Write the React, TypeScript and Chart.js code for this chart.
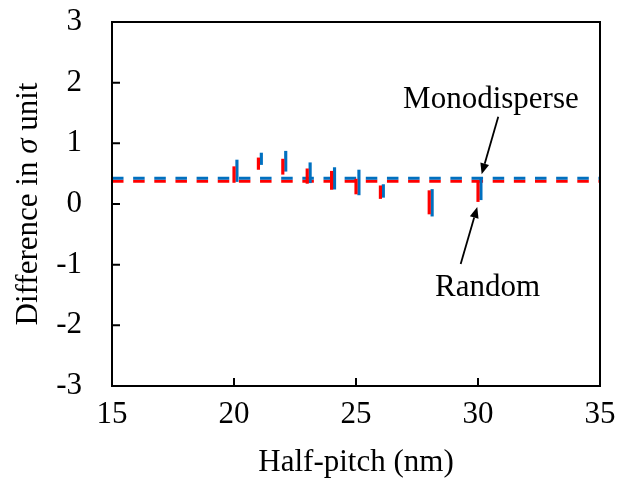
import React, { useEffect, useRef } from "react";
import { Chart, registerables } from "chart.js";

Chart.register(...registerables);

// Data
const randomX = [20, 21, 22, 23, 24, 25, 26, 28, 30];
const randomLow = [0.355, 0.57, 0.49, 0.34, 0.24, 0.165, 0.09, -0.165, 0.04];
const randomHigh = [0.615, 0.76, 0.74, 0.58, 0.54, 0.41, 0.3, 0.22, 0.38];

const monoX = [20.12, 21.12, 22.12, 23.12, 24.12, 25.12, 26.12, 28.12, 30.12];
const monoLow = [0.37, 0.65, 0.54, 0.35, 0.245, 0.15, 0.11, -0.2, 0.07];
const monoHigh = [0.725, 0.84, 0.87, 0.68, 0.6, 0.56, 0.32, 0.24, 0.42];

const monoMean = 0.425;
const randomMean = 0.375;

const xRange = [15, 35];
const yRange = [-3, 3];
const xTicks = [15, 20, 25, 30, 35];
const yTicks = [-3, -2, -1, 0, 1, 2, 3];

// annotations in data coordinates
const monoLabel = { text: "Monodisperse", x: 30.53, y: 1.58, tail: [30.83, 1.44], tip: [30.15, 0.49] };
const randomLabel = { text: "Random", x: 30.39, y: -1.52, tail: [29.29, -0.99], tip: [29.97, -0.05] };

const BLUE = "#0070C0";
const RED = "#FF0000";
const FONT = "'Liberation Serif', 'Times New Roman', serif";
const FS = 31;

export default function App() {
  const ref = useRef<HTMLCanvasElement | null>(null);

  useEffect(() => {
    if (!ref.current) return;
    const decor = {
      id: "decor",
      afterDraw(chart: any) {
        const ctx = chart.ctx;
        const { left, right, top, bottom } = chart.chartArea;
        const xs = chart.scales.x;
        const ys = chart.scales.y;
        ctx.save();
        ctx.strokeStyle = "#000";
        ctx.lineWidth = 2;
        ctx.strokeRect(left, top, right - left, bottom - top);
        ctx.beginPath();
        yTicks.forEach((v) => {
          const py = ys.getPixelForValue(v);
          ctx.moveTo(left, py);
          ctx.lineTo(left + 8, py);
        });
        xTicks.forEach((v) => {
          const px = xs.getPixelForValue(v);
          ctx.moveTo(px, bottom);
          ctx.lineTo(px, bottom - 8);
        });
        ctx.stroke();

        // annotations
        ctx.fillStyle = "#000";
        ctx.font = `${FS}px ${FONT}`;
        ctx.textAlign = "center";
        ctx.textBaseline = "alphabetic";
        [monoLabel, randomLabel].forEach((a) => {
          ctx.fillText(a.text, xs.getPixelForValue(a.x), ys.getPixelForValue(a.y));
          const tx = xs.getPixelForValue(a.tail[0]);
          const ty = ys.getPixelForValue(a.tail[1]);
          const hx = xs.getPixelForValue(a.tip[0]);
          const hy = ys.getPixelForValue(a.tip[1]);
          const ang = Math.atan2(hy - ty, hx - tx);
          const hl = 11, hw = 4.5;
          const bx = hx - hl * Math.cos(ang);
          const by = hy - hl * Math.sin(ang);
          ctx.lineWidth = 1.8;
          ctx.beginPath();
          ctx.moveTo(tx, ty);
          ctx.lineTo(bx, by);
          ctx.stroke();
          ctx.beginPath();
          ctx.moveTo(hx, hy);
          ctx.lineTo(bx + hw * Math.sin(ang), by - hw * Math.cos(ang));
          ctx.lineTo(bx - hw * Math.sin(ang), by + hw * Math.cos(ang));
          ctx.closePath();
          ctx.fill();
        });

        // y-axis title with italic sigma
        const p1 = "Difference in ";
        const p2 = "\u03C3";
        const p3 = " unit";
        ctx.font = `${FS}px ${FONT}`;
        const w1 = ctx.measureText(p1).width;
        const w3 = ctx.measureText(p3).width;
        ctx.font = `italic ${FS}px ${FONT}`;
        const w2 = ctx.measureText(p2).width;
        const total = w1 + w2 + w3;
        ctx.translate(37, (top + bottom) / 2);
        ctx.rotate(-Math.PI / 2);
        ctx.textAlign = "left";
        let x0 = -total / 2;
        ctx.font = `${FS}px ${FONT}`;
        ctx.fillText(p1, x0, 0);
        x0 += w1;
        ctx.font = `italic ${FS}px ${FONT}`;
        ctx.fillText(p2, x0, 0);
        x0 += w2;
        ctx.font = `${FS}px ${FONT}`;
        ctx.fillText(p3, x0, 0);
        ctx.restore();
      },
    };

    const chart = new Chart(ref.current, {
      type: "bar",
      data: {
        datasets: [
          {
            type: "bar",
            label: "Random",
            data: randomX.map((x, i) => ({ x, y: [randomLow[i], randomHigh[i]] })) as any,
            backgroundColor: RED,
            barThickness: 2.5,
            grouped: false,
            borderWidth: 0,
            order: 0,
          } as any,
          {
            type: "bar",
            label: "Monodisperse",
            data: monoX.map((x, i) => ({ x, y: [monoLow[i], monoHigh[i]] })) as any,
            backgroundColor: BLUE,
            barThickness: 2.5,
            grouped: false,
            borderWidth: 0,
            order: 0,
          } as any,
          {
            type: "line",
            label: "Monodisperse mean",
            data: [
              { x: xRange[0], y: monoMean },
              { x: xRange[1], y: monoMean },
            ],
            borderColor: BLUE,
            borderWidth: 3,
            borderDash: [11.5, 9.65],
            pointRadius: 0,
            order: 1,
          } as any,
          {
            type: "line",
            label: "Random mean",
            data: [
              { x: xRange[0], y: randomMean },
              { x: xRange[1], y: randomMean },
            ],
            borderColor: RED,
            borderWidth: 3,
            borderDash: [11.5, 9.65],
            pointRadius: 0,
            order: 1,
          } as any,
        ],
      },
      options: {
        responsive: false,
        animation: false,
        layout: { padding: { left: 0, right: 18, top: 22, bottom: 0 } },
        plugins: { legend: { display: false }, tooltip: { enabled: false } },
        scales: {
          x: {
            type: "linear",
            offset: false,
            min: xRange[0],
            max: xRange[1],
            afterFit: (s: any) => {
              s.height = 93;
              s.paddingLeft = 0;
              s.paddingRight = 0;
            },
            afterBuildTicks: (s: any) => {
              s.ticks = xTicks.map((v) => ({ value: v }));
            },
            ticks: {
              color: "#000",
              font: { family: FONT, size: FS },
              padding: 10,
              maxRotation: 0,
              autoSkip: false,
            },
            grid: { display: false, drawTicks: false, offset: false },
            border: { display: false },
            title: {
              display: true,
              text: "Half-pitch (nm)",
              color: "#000",
              font: { family: FONT, size: FS },
              padding: { top: 0, bottom: -2 },
            },
          },
          y: {
            type: "linear",
            min: yRange[0],
            max: yRange[1],
            afterFit: (s: any) => {
              s.width = 112;
              s.paddingTop = 0;
              s.paddingBottom = 0;
            },
            afterBuildTicks: (s: any) => {
              s.ticks = yTicks.map((v) => ({ value: v }));
            },
            ticks: {
              color: "#000",
              font: { family: FONT, size: FS },
              padding: 30,
              autoSkip: false,
            },
            grid: { display: false, drawTicks: false },
            border: { display: false },
          },
        },
      } as any,
      plugins: [decor],
    });
    return () => chart.destroy();
  }, []);

  return (
    <div style={{ position: "absolute", left: 0, top: 0, width: 618, height: 479, background: "#fff" }}>
      <canvas ref={ref} width={618} height={479} style={{ display: "block" }} />
    </div>
  );
}
